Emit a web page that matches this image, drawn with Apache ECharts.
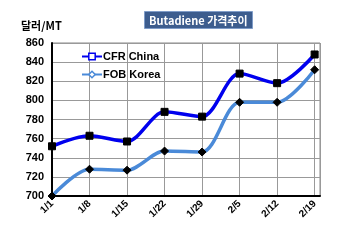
<!DOCTYPE html>
<html><head><meta charset="utf-8">
<script src="https://cdn.jsdelivr.net/npm/echarts@6/dist/echarts.min.js"></script>
<style>html,body{margin:0;padding:0;background:#fff}#c{width:350px;height:241px}</style>
</head><body><div id="c"></div>
<script>
var dateLabels = ['1/1','1/8','1/15','1/22','1/29','2/5','2/12','2/19'];
var cfrChina = [752, 763, 757, 788, 783, 828, 818, 848];
var fobKorea = [700, 728, 727, 747, 746, 798, 798, 832];
var yTicks = {min: 700, max: 860, step: 20};

function dayOf(lbl){ var p = lbl.split('/'); return (+p[0]-1)*31 + (+p[1]) - 1; }
var days = dateLabels.map(dayOf);
var labelByDay = {}; days.forEach(function(d,i){ labelByDay[d] = dateLabels[i]; });
function pairs(vals){ return vals.map(function(v,i){ return [days[i], v]; }); }

var chart = echarts.init(document.getElementById('c'));
chart.setOption({
  animation: false,
  backgroundColor: '#fff',
  title: {
    text: 'Butadiene 가격추이',
    left: 144, top: 11,
    backgroundColor: '#3d5d8e',
    borderColor: '#7f9cc8', borderWidth: 1,
    padding: [4, 5, 3, 5],
    textStyle: {color: '#fff', fontSize: 11, fontWeight: 'bold', fontFamily: '"Noto Sans CJK KR", sans-serif'}
  },
  graphic: [{
    type: 'text', left: 21, top: 20,
    style: {text: '달러/MT', fill: '#000', font: 'bold 11px "Noto Sans CJK KR", sans-serif'}
  }],
  legend: {
    orient: 'vertical', left: 76, top: 46,
    itemWidth: 20, itemHeight: 8, itemGap: 7,
    textStyle: {color: '#000', fontSize: 11, fontWeight: 'bold', fontFamily: 'Arial, "Liberation Sans", sans-serif', padding: [0,0,0,-4]},
    data: [
      {name: 'CFR China', itemStyle: {color: '#fff', borderColor: '#0000ee', borderWidth: 1.5}},
      {name: 'FOB Korea', itemStyle: {color: '#fff', borderColor: '#4a8ad8', borderWidth: 1.5}}
    ]
  },
  grid: {left: 52, right: 30, top: 43, bottom: 45, show: true, borderColor: '#888', borderWidth: 1, backgroundColor: 'transparent'},
  xAxis: {
    type: 'value', min: 0, max: 50, interval: 7,
    axisLine: {show: true, lineStyle: {color: '#000', width: 2}},
    axisTick: {show: false},
    splitLine: {show: true, lineStyle: {color: '#999', width: 1}},
    axisLabel: {
      rotate: 45, fontSize: 10, fontWeight: 'bold', color: '#000', margin: 6,
      fontFamily: 'Arial, "Liberation Sans", sans-serif',
      formatter: function(v){ return labelByDay[v] || ''; }
    }
  },
  yAxis: {
    type: 'value', min: yTicks.min, max: yTicks.max, interval: yTicks.step,
    axisLine: {show: true, lineStyle: {color: '#000', width: 2}},
    axisTick: {show: false},
    splitLine: {show: true, lineStyle: {color: '#999', width: 1}},
    axisLabel: {fontSize: 11, fontWeight: 'bold', color: '#000', margin: 8, fontFamily: 'Arial, "Liberation Sans", sans-serif'}
  },
  series: [
    {
      name: 'CFR China', type: 'line', smooth: 0.3, data: pairs(cfrChina),
      symbol: 'rect', symbolSize: 7,
      lineStyle: {color: '#0000ee', width: 3.5},
      itemStyle: {color: '#000', borderColor: '#000'}
    },
    {
      name: 'FOB Korea', type: 'line', smooth: 0.3, data: pairs(fobKorea),
      symbol: 'diamond', symbolSize: 8,
      lineStyle: {color: '#4a8ad8', width: 3.5},
      itemStyle: {color: '#000', borderColor: '#000'}
    }
  ]
});
</script></body></html>
